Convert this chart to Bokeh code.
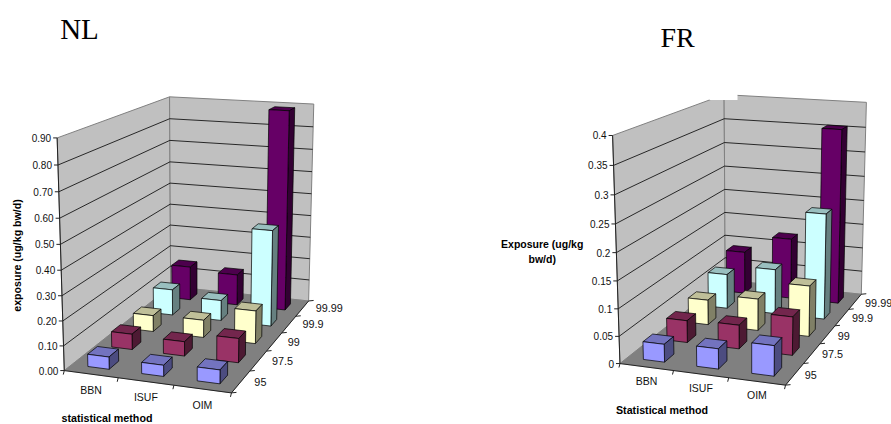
import numpy as np
from bokeh.plotting import figure
from bokeh.models import Range1d
from bokeh.core.properties import value
from bokeh.embed import file_html
from bokeh.resources import INLINE

# ---- data ----
categories = ["BBN", "ISUF", "OIM"]
percentiles = ["95", "97.5", "99", "99.9", "99.99"]

nl_95 = [0.05, 0.045, 0.055]
nl_975 = [0.065, 0.06, 0.10]
nl_99 = [0.07, 0.075, 0.14]
nl_999 = [0.115, 0.09, 0.42]
nl_9999 = [0.155, 0.14, 0.89]
nl_ticks = ["0.00", "0.10", "0.20", "0.30", "0.40", "0.50", "0.60", "0.70", "0.80", "0.90"]
nl_max = 0.9

fr_95 = [0.033, 0.037, 0.055]
fr_975 = [0.042, 0.045, 0.072]
fr_99 = [0.049, 0.062, 0.098]
fr_999 = [0.07, 0.09, 0.21]
fr_9999 = [0.088, 0.125, 0.355]
fr_ticks = ["0", "0.05", "0.1", "0.15", "0.2", "0.25", "0.3", "0.35", "0.4"]
fr_max = 0.4

# ---- styles: front, top, side ----
colors = [("#9999FF", "#7373BF", "#4C4C80"),
          ("#993366", "#73264D", "#4D1A33"),
          ("#FFFFCC", "#BFBF99", "#808066"),
          ("#CCFFFF", "#99BFBF", "#668080"),
          ("#660066", "#4D004D", "#330033")]
WALL = "#C0C0C0"
FLOOR = "#808080"

p = figure(width=891, height=424, output_backend="svg", toolbar_location=None,
           x_range=Range1d(0, 891), y_range=Range1d(424, 0), min_border=0,
           outline_line_color=None, background_fill_color="white", border_fill_color="white")
p.axis.visible = False
p.grid.visible = False


def fit_camera(corners):
    rows = []
    for (u, v, w), (x, y) in corners:
        X = [u, v, w, 1.0]
        x, y = x / 100, y / 100
        rows.append(X + [0, 0, 0, 0] + [-x * c for c in X])
        rows.append([0, 0, 0, 0] + X + [-y * c for c in X])
    _, _, vt = np.linalg.svd(np.array(rows, dtype=float))
    return vt[-1].reshape(3, 4)


def chart(corners, series, ymax, ticks, cat_off, ser_off):
    M = fit_camera(corners)

    def P(u, v, w):
        h = M @ np.array([u, v, w, 1.0])
        return h[0] / h[2] * 100, h[1] / h[2] * 100

    def poly(pts, fill, line, lw=0.7):
        xy = [P(*q) for q in pts]
        p.patch([a[0] for a in xy], [a[1] for a in xy], fill_color=fill, line_color=line, line_width=lw)

    def seg(a, b, color="black", lw=0.8):
        (x0, y0), (x1, y1) = a, b
        p.line([x0, x1], [y0, y1], line_color=color, line_width=lw)

    # walls and floor
    poly([(0, 0, 0), (0, 1, 0), (0, 1, 1), (0, 0, 1)], WALL, FLOOR, 1)
    poly([(0, 1, 0), (1, 1, 0), (1, 1, 1), (0, 1, 1)], WALL, FLOOR, 1)
    n = len(ticks) - 1
    for i in range(1, n):
        w = i / n
        seg(P(0, 0, w), P(0, 1, w))
        seg(P(0, 1, w), P(1, 1, w))
    poly([(0, 0, 0), (1, 0, 0), (1, 1, 0), (0, 1, 0)], FLOOR, FLOOR, 0.5)

    # axes lines and ticks
    seg(P(0, 0, 0), P(0, 0, 1), "#222222", 1)
    seg(P(0, 0, 0), P(1, 0, 0), "#222222", 1)
    seg(P(1, 0, 0), P(1, 1, 0), "#222222", 1)
    for i, t in enumerate(ticks):
        x, y = P(0, 0, i / n)
        seg((x - 4, y), (x, y), "#222222", 1)
        p.text([x - 6], [y], text=[t], text_font=value("Liberation Sans"), text_font_size="10px",
               text_align="right", text_baseline="middle", text_color="#111111")
    for j in range(len(categories) + 1):
        x, y = P(j / 3, 0, 0)
        seg((x, y), (x - 1, y + 4), "#222222", 1)
    for j, c in enumerate(categories):
        x, y = P((j + 0.5) / 3, 0, 0)
        p.text([x + cat_off[0]], [y + cat_off[1]], text=[c], text_font=value("Liberation Sans"),
               text_font_size="10.5px", text_align="center", text_baseline="middle", text_color="#111111")
    for i in range(len(percentiles) + 1):
        x, y = P(1, i / 5, 0)
        seg((x, y), (x + 5, y - 0.5), "#222222", 1)
    for i, c in enumerate(percentiles):
        x, y = P(1, (i + 0.5) / 5, 0)
        p.text([x + ser_off[0]], [y + ser_off[1]], text=[c], text_font=value("Liberation Sans"),
               text_font_size="10.8px", text_align="left", text_baseline="middle", text_color="#111111")

    # bars, back to front
    hu, hv = 0.4 / 3 / 2, 0.4 / 5 / 2
    for i in range(4, -1, -1):
        front, top, side = colors[i]
        for j in range(3):
            h = series[i][j] / ymax
            u0, u1 = (j + 0.5) / 3 - hu, (j + 0.5) / 3 + hu
            v0, v1 = (i + 0.5) / 5 - hv, (i + 0.5) / 5 + hv
            poly([(u0, v0, h), (u1, v0, h), (u1, v1, h), (u0, v1, h)], top, "black")
            poly([(u1, v0, 0), (u1, v1, 0), (u1, v1, h), (u1, v0, h)], side, "black")
            poly([(u0, v0, 0), (u1, v0, 0), (u1, v0, h), (u0, v0, h)], front, "black")


nl_corners = [((0, 0, 0), (64, 369.3)), ((1, 0, 0), (230.7, 393.3)), ((1, 1, 0), (308.3, 299.3)),
              ((0, 1, 0), (170, 287)), ((0, 0, 1), (56.7, 137.3)), ((0, 1, 1), (169, 96)),
              ((1, 1, 1), (313.3, 104))]
fr_corners = [((0, 0, 0), (619.3, 362.7)), ((1, 0, 0), (785, 385)), ((1, 1, 0), (860.7, 293.3)),
              ((0, 1, 0), (725, 280)), ((0, 0, 1), (612.3, 135)), ((0, 1, 1), (723.3, 94)),
              ((1, 1, 1), (866, 102))]

chart(nl_corners, [nl_95, nl_975, nl_99, nl_999, nl_9999], nl_max, nl_ticks, (0, 15.5), (13.5, 0))
chart(fr_corners, [fr_95, fr_975, fr_99, fr_999, fr_9999], fr_max, fr_ticks, (0, 14), (10, 1))

# notch in the FR wall's top edge
p.quad(left=[709], right=[737], top=[80], bottom=[99.5], fill_color="white", line_color=None)


def label(x, y, t, size, font="Liberation Sans", style="bold", angle=0.0, align="center"):
    p.text([x], [y], text=[t], text_font=value(font), text_font_size=size, text_font_style=style,
           angle=angle, text_align=align, text_baseline="middle", text_color="black")


label(79, 28, "NL", "29px", "Liberation Serif", "normal")
label(677, 37, "FR", "28px", "Liberation Serif", "normal")
label(16, 255, "exposure (ug/kg bw/d)", "10.6px", angle=np.pi / 2)
label(106.5, 417, "statistical method", "10.7px")
label(541.7, 243, "Exposure (ug/kg", "10.5px")
label(541.7, 258, "bw/d)", "10.5px")
label(661.5, 409, "Statistical method", "10.7px")

open("out.html", "w").write(file_html(p, INLINE))
